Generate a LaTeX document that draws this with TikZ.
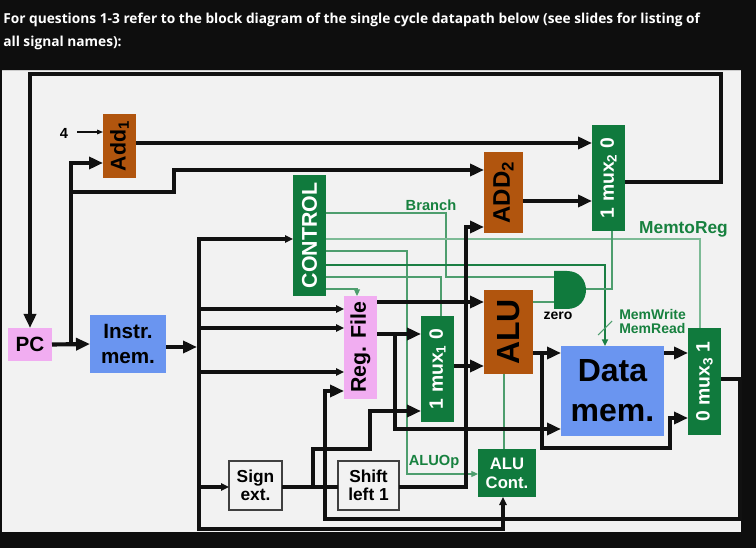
\documentclass[tikz,border=0pt]{standalone}
\usepackage{fontspec}
\setmainfont{Liberation Sans}
\newfontfamily\titlefont{Open Sans}
\usetikzlibrary{arrows.meta}
\definecolor{bg}{HTML}{0E0E0E}
\definecolor{panel}{HTML}{F2F2F2}
\definecolor{orng}{HTML}{B1550E}
\definecolor{grn}{HTML}{107A3D}
\definecolor{pnk}{HTML}{F1ADF1}
\definecolor{blu}{HTML}{6A95F0}
\definecolor{wire}{HTML}{111111}
\definecolor{lgrn}{HTML}{7DBB96}
\definecolor{mgrn}{HTML}{4E9E6E}
\definecolor{dgrn}{HTML}{1B7F44}
\definecolor{lblg}{HTML}{17813F}
\tikzset{
  sz/.style 2 args={minimum width=#1*0.75pt, minimum height=#2*0.75pt},
  box/.style={inner sep=0pt, outer sep=0pt, font=\bfseries},
  fs/.style 2 args={font=\bfseries\fontsize{#1}{#2}\selectfont},
  bus/.style={draw=wire, line width=3.1pt},
  med/.style={draw=wire, line width=2.6pt},
  ar/.style={-{Triangle[length=10.5pt,width=9pt]}},
  sar/.style={-{Triangle[length=6pt,width=5.5pt]}},
  gthin/.style={draw=mgrn, line width=0.8pt},
  glight/.style={draw=lgrn, line width=1.5pt},
  gthick/.style={draw=dgrn, line width=1.5pt},
  gar/.style={-{Triangle[length=5pt,width=4.5pt]}},
  lbl/.style={inner sep=0pt, text=lblg},
}
\begin{document}
\begin{tikzpicture}[x=0.75pt,y=-0.75pt]
\fill[bg] (0,0) rectangle (756,548);
\useasboundingbox (0,0) rectangle (756,548);
\fill[panel] (2,70) rectangle (741,532);
\draw[gray!40, line width=0.8pt] (2,70.5) -- (741,70.5);

% title
\node[anchor=base west, inner sep=0pt, text=white, font=\titlefont\bfseries\fontsize{10.3pt}{13pt}\selectfont] (t1) at (3,24) {For questions 1-3 refer to the block diagram of the single cycle datapath below (see slides for listing of};
\node[anchor=base west, inner sep=0pt, text=white, font=\titlefont\bfseries\fontsize{10.3pt}{13pt}\selectfont] (t2) at (3,47) {all signal names):};

% boxes
\node[box, fill=pnk, sz={44}{33}, fs={15.5pt}{18pt}] (pc) at (30,344.5) {PC};
\node[box, fill=blu, sz={76}{58}, align=center, fs={15.5pt}{18.75pt}] (imem) at (128,344) {Instr.\\mem.};
\node[box, fill=orng, sz={33}{64}, fs={16pt}{18pt}] (add1) at (119.5,146) {\rotatebox{90}{Add\textsubscript{1}}};
\node[box, fill=orng, sz={39}{81}, fs={18pt}{20pt}] (add2) at (503.5,192.5) {\rotatebox{90}{ADD\textsubscript{2}}};
\node[box, fill=grn, text=white, sz={33}{106}, fs={14.5pt}{16pt}] (mux2) at (608.5,178) {\rotatebox{90}{1 mux\textsubscript{2} 0}};
\node[box, fill=grn, text=white, sz={33}{121}, fs={16pt}{18pt}] (ctrl) at (309.5,235.5) {\rotatebox{90}{CONTROL}};
\node[box, fill=pnk, sz={33}{103}, fs={16pt}{18pt}] (rf) at (360.5,347.5) {\rotatebox{90}{Reg. File}};
\node[box, fill=grn, text=white, sz={33}{106}, fs={14.5pt}{16pt}] (mux1) at (437.5,369) {\rotatebox{90}{1 mux\textsubscript{1} 0}};
\node[box, fill=orng, sz={49}{84}, fs={24pt}{26pt}] (alu) at (508.5,332) {\rotatebox{90}{ALU}};
\node[box, fill=blu, sz={103}{90}, align=center, fs={24pt}{30pt}] (dmem) at (612.5,391) {Data\\mem.};
\node[box, fill=grn, text=white, sz={33}{107}, fs={14.5pt}{16pt}] (mux3) at (704.5,381.5) {\rotatebox{90}{0 mux\textsubscript{3} 1}};
\node[box, fill=panel, draw=black!75, line width=0.8pt, sz={53}{49}, align=center, fs={13pt}{13.5pt}] (sext) at (255.5,485.5) {Sign\\ext.};
\node[box, fill=panel, draw=black!75, line width=0.8pt, sz={61}{49}, align=center, fs={13pt}{13.5pt}] (shl) at (368.5,485.5) {Shift\\left 1};
\node[box, fill=grn, text=white, sz={58}{48}, align=center, fs={12.5pt}{14.25pt}] (aluc) at (507,473) {ALU\\Cont.};

% AND gate
\fill[grn] (554,271) -- (567,271) .. controls (592.3,271) and (592.3,309) .. (567,309) -- (554,309) -- cycle;
\coordinate (andA) at (554,277);
\coordinate (andB) at (554,302);
\coordinate (andY) at (586,289);

% labels
\node[lbl, fs={11pt}{13pt}] (lbranch) at (431,205) {Branch};
\node[lbl, fs={13pt}{15pt}] (lmtr) at (683.5,229) {MemtoReg};
\node[lbl, anchor=west, align=left, fs={10.5pt}{11pt}] (lmw) at (619,321.5) {MemWrite\\MemRead};
\node[lbl, fs={11pt}{13pt}] (laluop) at (434,462) {ALUOp};
\node[inner sep=0pt, fs={10.5pt}{12pt}] (zero) at (558,316) {zero};
\node[inner sep=0pt, fs={11pt}{12pt}] (four) at (64,133) {4};

% green control lines
\draw[gthin] (ctrl.east |- 0,213) -- (446,213) -- (446,277) -- (andA);
\draw[glight] (ctrl.east |- 0,239) -- (700,239) -- (mux3.north -| 700,0);
\draw[gthin, gar] (ctrl.east |- 0,251) -- (407,251) -- (407,474) -- (aluc.west |- 0,474);
\draw[gthick, gar] (ctrl.east |- 0,265) -- (605,265) -- (dmem.north -| 605,0);
\draw[gthin] (598,335) -- (612,321);
\draw[gthin] (ctrl.east |- 0,277) -- (441,277) -- (mux1.north -| 441,0);
\draw[gthin, gar] (ctrl.east |- 0,289) -- (357,289) -- (rf.north -| 357,0);
\draw[gthin] (andY) -- (612,289) -- (mux2.south -| 612,0);
\draw[gthin] (alu.east |- 0,302) -- (andB);
\draw[gthin] (aluc.north -| 504,0) -- (alu.south -| 504,0);

% black wires
\draw[bus, ar] (mux2.east |- 0,182) -- (721,182) -- (721,74) -- (30,74) -- (pc.north);
\draw[bus, ar] (pc.east) -- (imem.west);
\draw[bus, ar] (pc.east -| 71,0) -- (71,163) -- (add1.west |- 0,163);
\draw[bus, ar] (71,192) -- (174,192) -- (174,170) -- (add2.west |- 0,170);
\draw[draw=wire, line width=0.8pt, -{Triangle[length=4.5pt,width=3.5pt]}] (four.east) ++(9,-1) -- (add1.west |- 0,132);
\draw[bus, ar] (add1.east |- 0,143) -- (mux2.west |- 0,143);
\draw[bus, ar] (add2.east |- 0,201) -- (mux2.west |- 0,201);
\draw[bus, ar] (imem.east |- 0,347) -- (197,347);
\draw[med, {Triangle[length=6pt,width=5.5pt]}-{Triangle[length=6pt,width=5.5pt]}] (ctrl.west |- 0,239) -- (199,239) -- (199,529) -- (503,529) -- (aluc.south -| 503,0);
\draw[med, sar] (199,309) -- (rf.west |- 0,309);
\draw[med, sar] (199,328) -- (rf.west |- 0,328);
\draw[med, sar] (199,372) -- (rf.west |- 0,372);
\draw[med, sar] (199,487) -- (sext.west |- 0,487);
\draw[bus] (sext.east |- 0,487) -- (shl.west |- 0,487);
\draw[bus, ar] (313,487) -- (313,449) -- (370,449) -- (370,411) -- (mux1.west |- 0,411);
\draw[med, ar] (mux3.east |- 0,379) -- (740,379) -- (740,519) -- (325,519) -- (325,391) -- (rf.west |- 0,391);
\draw[bus, ar] (rf.east |- 0,302) -- (alu.west |- 0,302);
\draw[bus, ar] (rf.east |- 0,334) -- (mux1.west |- 0,334);
\draw[bus, ar] (395,334) -- (395,429) -- (dmem.west |- 0,429);
\draw[bus, ar] (mux1.east |- 0,366) -- (alu.west |- 0,366);
\draw[bus, ar] (shl.east |- 0,487) -- (466,487) -- (466,227) -- (add2.west |- 0,227);
\draw[bus, ar] (alu.east |- 0,353) -- (dmem.west |- 0,353);
\draw[bus, ar] (542,353) -- (542,448) -- (670,448) -- (670,418) -- (mux3.west |- 0,418);
\draw[bus, ar] (dmem.east |- 0,353) -- (mux3.west |- 0,353);
\end{tikzpicture}
\end{document}
